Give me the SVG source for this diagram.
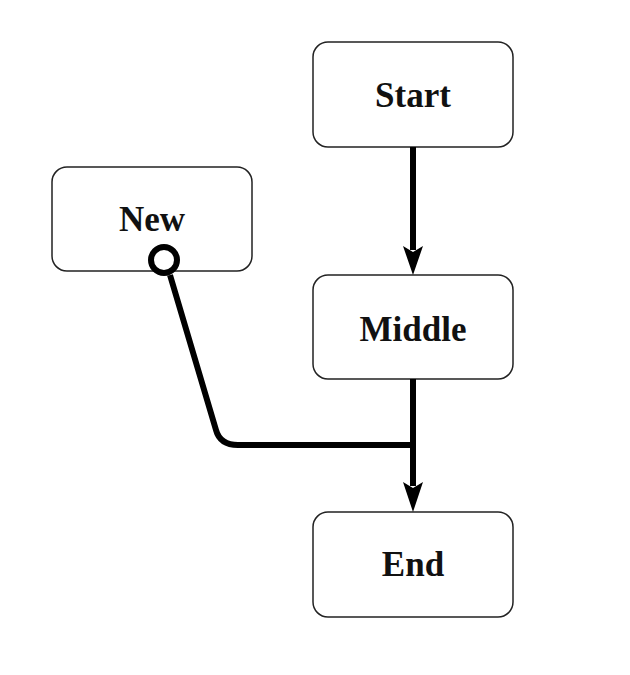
<svg xmlns="http://www.w3.org/2000/svg" width="630" height="675" viewBox="0 0 630 675">
<style>
.box{fill:#fff;stroke:#222;stroke-width:1.5}
.lbl{font-family:"Liberation Serif",serif;font-weight:bold;font-size:35px;fill:#111;text-anchor:middle}
.edge{fill:none;stroke:#000;stroke-width:6}
.head{fill:#000}
</style>
<rect width="630" height="675" fill="#fff"/>
<g id="start"><rect class="box" x="313" y="42" width="200" height="105" rx="15"/><text class="lbl" x="413" y="107">Start</text></g>
<g id="new"><rect class="box" x="52" y="167" width="200" height="104" rx="15"/><text class="lbl" x="152" y="231">New</text></g>
<g id="middle"><rect class="box" x="313" y="275" width="200" height="104" rx="15"/><text class="lbl" x="413" y="341">Middle</text></g>
<g id="end"><rect class="box" x="313" y="512" width="200" height="105" rx="15"/><text class="lbl" x="413" y="576">End</text></g>
<g id="connectors">
<path class="edge" d="M413,147 L413,250"/>
<path class="head" d="M403,246 L413,252 L423,246 L413,275 Z"/>
<path class="edge" d="M413,379 L413,486"/>
<path class="head" d="M403,482 L413,488 L423,482 L413,512 Z"/>
<path class="edge" d="M170,275 L216,430 Q220,445 238,445 L413,445"/>
<circle cx="164" cy="260" r="13" fill="#fff" stroke="#000" stroke-width="6"/>
</g>
</svg>
